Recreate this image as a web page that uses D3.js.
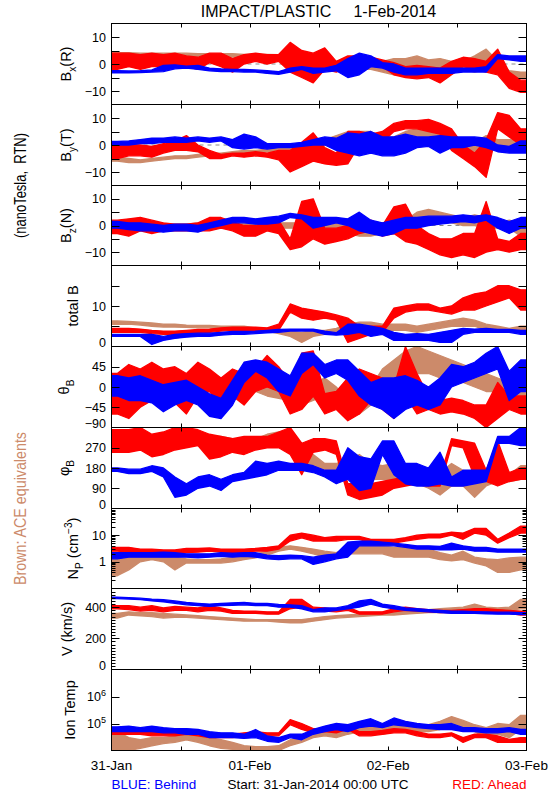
<!DOCTYPE html>
<html><head><meta charset="utf-8">
<script src="https://cdn.jsdelivr.net/npm/d3@7"></script>
<style>body{margin:0;background:#fff}svg{display:block}text{font-family:"Liberation Sans",Arial,sans-serif}</style>
</head><body><svg id="c" width="550" height="800"></svg>
<script>
// ---- time bins (hours since 31-Jan-2014 00:00 UTC, 2-hour bin centres) ----
const binHours = [1,3,5,7,9,11,13,15,17,19,21,23,25,27,29,31,33,35,37,39,41,43,45,47,49,51,53,55,57,59,61,63,65,67,69,71];
const dayTicks = [0,24,48,72];
const dayLabels = ["31-Jan","01-Feb","02-Feb","03-Feb"];

// ---- Bx (nT) ----
const bxBlueLo = [-3.3,-3.3,-3.2,-3.0,-2.8,-1.8,-1.5,-2.0,-2.5,-2.8,-2.8,-3.0,-3.0,-3.5,-3.8,-3.0,-2.0,-3.5,-3.0,-2.5,-5.0,-4.0,-1.0,-1.5,-3.0,-4.0,-4.0,-3.5,-3.5,-3.5,-3.0,-3.0,-3.0,2.0,1.5,1.0];
const bxBlueHi = [-2.5,-2.6,-2.5,-2.2,-0.5,-0.3,-0.8,-0.5,-1.5,-1.8,-2.0,-2.0,-2.2,-2.5,-2.8,-1.5,-1.0,-1.5,-1.5,-0.5,2.0,4.0,3.0,0.5,0.0,-1.5,-1.5,-1.5,-1.5,-1.5,-1.5,-1.5,-1.0,3.5,3.0,3.0];
const bxRedLo = [-2,-1,-2,-1,-1,0,-1,-2,0.5,-1,-3,0,1,0,1,-3,-5,-7,-2,-3,-1,-2,0,-1,-4,-5,-5.5,-5,-7,-4,-1,-2,-3,-4,-9,-10.5];
const bxRedHi = [4,4,3.5,4,3.5,4,3,2.5,4,4,2,3.5,4,3.5,3.5,8,5,4,6,1,3,3,2.5,1.5,0.5,-1,-0.5,-1,-1.5,1,2.5,2,1,5.5,-3,-6];
const bxBrownLo = [3.0,3.0,2.8,2.8,2.8,2.8,2.8,2.8,2.6,2.6,2.6,2.5,2.5,2.5,2.3,1.5,1,0,-0.5,-1,-2,-2,-2,-3,-4,-4.5,-3.5,-3,-3,-3,-2,-3,-2,-3,-5,-5];
const bxBrownHi = [4.2,4.2,4.0,4.0,4.0,4.0,4.0,3.8,3.8,3.8,3.8,3.6,3.6,3.6,3.5,3.5,3,2.5,1.5,1,0.5,0.5,0,1,2,2,3,1.5,2,1,1,3,5.5,1,-2.5,-3];

// ---- By (nT) ----
const byBlueLo = [0,0,0.5,0.5,1,1,1,1.5,1,1.5,-1,-1.5,-1,-1.5,-1,-1,-0.5,0,0,-2,-3,-4,-3,-4,-4,-3,-1,-0.5,-3,-1,-1,0,-1,-2.5,-3,-3];
const byBlueHi = [1.3,1.5,2,2.5,2.5,3,2.5,3,2.5,3,2,4,3,0.5,0.5,0.5,1,2,3,2.5,4.5,4,5,3,3,4,3,3,3.5,3,3,3,2.5,0,-0.5,1.5];
const byRedLo = [-5,-4,-4,-4.5,-3,-2,-2,-2.5,-5,-5,-4,-4.5,-4,-4.5,-5.5,-10,-8,-6,-7,-7.5,-7,0,-1,1,5,6,6,5,4,-2,-5,-8,-12,6,3,0];
const byRedHi = [1,0,0,-0.5,0.5,1.5,3.5,0,-2,-3.5,-3,-3,-2.5,-3,-2,-2,1,4.5,-1,-3,5,5,4,5,8,9,9,9.5,8,6,0,-3,2,12,11,6];
const byBrownLo = [-6,-6.5,-6.5,-6,-5.5,-5,-5,-4.5,-4,-4,-3.5,-3,-3,-2.5,-2,-2,-1.5,-0.5,0,0,1,2,2,0,-2,-1,1,2,1,-1,-3,-3,-2,-1,-1,-1];
const byBrownHi = [-4.5,-5,-5.5,-5,-4.5,-4,-4,-3.5,-3,-3,-2.5,-2,-2,-1.5,-1,-0.5,0,1,2,3.5,5,5,5,3,3,5,6,5,4,3,2,1,3.5,2,2,1.5];

// ---- Bz (nT) ----
const bzBlueLo = [-1,-1.5,-2,-2,-2.5,-2,-2,-2.5,-1,0,1,1,0.5,0.5,1,3,2.5,-1,0,1,0,-2,-3,-4,-3,-1,-1,0,0.5,1,1.5,1,2,-1,-3,-1];
const bzBlueHi = [1.5,1,1,0.5,0,0.5,0.5,0,1,2,3,3,2.5,3,3.5,4.5,4,3,3,3,2.5,5,2,1,2,3,3,3.5,3.5,3.5,4,3.5,4,3,1.5,3];
const bzRedLo = [-3,-4,-2,-3,-2,-2,-2,-2,-2,-1,-2,-4,-4,-2,-3,-9,-8,-5,-7,-6,-5,-3,-2,-4,-3,-6,-7,-9,-11,-12,-11,-12,-10,-9,-10,-9];
const bzRedHi = [2,2.5,3,2,1,0.5,0.5,1,3,3,1.5,0,0,1.5,2,-5,9,10,-1,-1,0,1,2,0,7,8,0,-3,-5,-5,-3,-3,9,-5,-6,-3];
const bzBrownLo = [-1,-1,-1,-1,-1,-1,-1.5,-1,-0.5,-1,-1,0,-0.5,-0.5,-1,-1,-1,0,-1,-2,-3,-4,-4,-3,-3,-3,-1,2,2,1,0,0,-1,-1,-1,-4];
const bzBrownHi = [1.5,2,2,1,0.5,0.5,0.5,1,1,1,0.5,1,0.5,0.5,1,1,1,2,1,1,0,-1,-1,1,2,2,5,6,5,4,3,4,3,1,2,1];

// ---- total B (nT) ----
const btBlueLo = [2.5,2.5,2.5,0.5,1.5,2,2.3,2.5,2.5,2.8,3,3,3.2,3.4,3.5,3.8,3.8,3.8,3,2.8,3,3.5,2.5,3,1.5,1.5,1.5,1.5,1,1,3,3.5,3.5,3.5,3.5,3];
const btBlueHi = [3,3,3,3,2.5,3,3.2,3.3,3.3,3.5,3.7,3.7,3.8,4,4.2,4.3,4.3,4.3,3.8,3.4,5.5,5.5,5,4.5,3.5,3,3.2,3,3.5,4,4.5,4.3,4.5,4.2,4.2,4];
const btRedLo = [3.5,3.5,3.5,3.2,3,3,3,3.3,3.5,3.8,4,4,4,3.8,4,8.5,7,6.5,7,6.5,1,2,3,3.5,7,8.5,9,9,8.5,8,9,9,10,11,12,9];
const btRedHi = [4.5,4.5,4.3,4,3.8,3.8,4,4.2,4.3,4.6,4.8,4.8,4.8,4.6,5.5,10.5,9.5,9,8.5,7.8,7,5,5,5,9.5,10,10.5,10.5,9.5,10,12,13,13.5,15,15,14];
const btBrownLo = [5.5,5.5,5.3,5,4.8,4.8,4.7,4.6,4.6,4.5,4.5,4.3,4,3.8,3.2,2.5,1,2.5,3,3,3.5,4.5,4.5,4,4,4,3.5,4,4.5,5,5,5,4,3.5,3.5,3.5];
const btBrownHi = [6.3,6.2,6,5.8,5.5,5.5,5.3,5.2,5.2,5,5,5,4.6,4.4,4,3.8,3.5,4,4,4.5,5.5,6,6,5.5,5.5,5.5,5,5.5,6,6.5,7,6.5,5.5,5,4.5,5];

// ---- theta_B (deg) ----
const thBlueLo = [-20,-30,-30,-35,-55,-40,-30,-40,-65,-70,-40,10,35,20,-10,-20,30,50,20,30,15,-20,-40,-50,-70,-50,-40,-50,-40,0,10,20,30,40,-30,-10];
const thBlueHi = [25,20,25,15,5,10,15,0,-15,-25,15,55,60,55,40,25,75,75,50,60,60,35,10,20,20,25,15,0,20,50,45,55,75,90,35,60];
const thRedLo = [-60,-70,-45,-30,-20,-35,-60,-20,-10,-40,-20,-40,-10,0,-10,-60,-50,-20,-60,-50,-75,-60,-30,-50,-70,-20,-60,-50,-60,-55,-60,-70,-90,-70,-50,-60];
const thRedHi = [30,50,40,55,40,45,30,55,40,20,40,30,40,70,45,10,75,80,-15,-10,20,40,30,20,0,90,30,-20,-30,-25,-30,-40,-40,10,-20,-20];
const thBrownLo = [-30,-20,-20,-15,-20,-20,-10,-10,-10,-10,-15,-10,-10,-20,-25,-30,-40,-30,-20,-30,-60,-60,-40,-20,-10,20,30,30,20,20,10,0,-10,-10,-20,-40];
const thBrownHi = [20,20,20,15,20,20,15,15,10,15,10,20,15,0,-5,-10,-10,10,20,0,-30,-20,0,40,60,80,90,80,70,60,50,40,30,20,10,10];

// ---- phi_B (deg) ----
const phBlueLo = [165,155,155,165,140,50,60,90,100,80,120,130,140,150,170,170,170,160,140,110,130,80,90,240,150,110,100,100,110,100,100,110,120,290,290,280];
const phBlueHi = [180,175,175,190,180,140,110,140,150,130,150,160,210,200,210,200,200,190,170,170,270,230,220,300,300,200,200,180,250,140,170,170,170,320,320,360];
const phRedLo = [250,250,260,230,240,260,270,280,220,230,250,240,260,270,270,240,150,250,260,240,60,40,50,60,90,100,110,100,100,280,270,140,120,100,120,130];
const phRedHi = [350,350,360,330,340,360,360,350,330,320,310,320,320,320,340,360,290,310,310,300,110,110,110,120,130,140,140,130,140,310,300,290,170,300,160,180];
const phBrownLo = [300,300,290,300,300,290,300,300,305,300,290,290,290,300,300,280,180,170,150,130,140,180,130,130,120,150,110,90,60,100,100,50,100,120,120,130];
const phBrownHi = [330,320,310,320,320,310,320,320,325,320,310,310,310,330,340,330,260,240,200,200,220,240,200,190,200,180,150,150,160,200,170,150,180,160,150,190];

// ---- Np (cm^-3) ----
const npBlueLo = [1.3,1.5,1.5,1.5,1.5,1.5,1.5,1.4,1.5,1.6,1.5,1.6,1.5,1.3,1.2,1.3,1.3,0.8,1,1.3,1.5,4,4,4,4,3.5,3,3,2.8,2.8,3,2.5,2.5,2.3,2.3,2.3];
const npBlueHi = [2.2,2.2,2.2,2.2,2.3,2.2,2,2,2,2.2,2.1,2.2,2.2,1.8,1.7,1.8,1.7,1.5,1.8,2,5.5,6,6,5.5,5,4.5,4,4,3.8,5,4,3.5,3.5,3,3,3];
const npRedLo = [2.5,2.3,2.2,2,2,2,2.2,2.3,2.5,2.3,2.2,2.3,2.5,2.5,3,6,8,6,6,6,7,7,5,5,5,6,7,8,8,10,7,12,10,5,8,12];
const npRedHi = [3.5,3.5,3,3,2.8,2.8,3.2,3.2,3.3,3,3,3,3.2,3.5,4,10,12,10,8,9,9,9,7,7,7,8,10,11,11,13,12,18,18,7,12,22];
const npBrownLo = [0.3,0.5,1,1.2,1,0.5,0.9,0.9,0.9,0.9,1,1.2,1.4,1.8,2.5,3,2.5,2,1.5,1.5,2,2,2,2,1.5,1.5,1.5,1.5,1.2,1.1,1.2,0.9,0.7,0.4,0.4,0.5];
const npBrownHi = [2,2,2,2,1.6,1.5,1.3,1.2,1.2,1.3,1.5,1.8,2,2.5,3.5,4,3.5,3,2.5,2.2,3.5,4,4.5,4,3.5,3.5,3.5,3,2.2,1.8,2.5,1.5,1.3,1.2,1.4,1.5];

// ---- V (km/s) ----
const vBlueLo = [455,452,448,440,435,425,415,410,405,410,412,415,410,410,400,400,390,370,370,380,390,400,420,400,390,380,375,370,365,360,360,360,358,355,355,352];
const vBlueHi = [465,462,458,452,448,440,430,425,420,425,428,430,425,425,418,415,410,385,395,395,410,440,450,420,410,395,390,385,380,375,375,372,370,368,368,365];
const vRedLo = [390,385,375,380,370,380,380,370,380,375,360,360,360,355,355,390,400,380,375,370,380,355,355,355,370,380,375,370,365,365,370,375,375,365,360,350];
const vRedHi = [410,410,400,410,395,405,400,395,410,395,380,375,375,370,370,450,450,400,395,385,400,370,370,370,390,400,390,385,380,380,385,390,390,385,380,375];
const vBrownLo = [330,350,345,340,330,335,335,330,325,320,315,310,310,310,305,300,300,310,320,330,335,340,345,350,350,355,360,365,365,370,375,380,375,380,380,390];
const vBrownHi = [360,370,365,365,360,355,350,345,340,335,330,325,320,320,320,320,320,330,340,345,350,355,360,365,370,375,380,385,390,395,400,420,400,395,400,450];

// ---- Ion temperature (K) ----
const tBlueLo = [5e4,5e4,5e4,5e4,4.5e4,4.5e4,4e4,4e4,3e4,3e4,3e4,2.8e4,3e4,2.2e4,2e4,3e4,2.5e4,4e4,5e4,6e4,5e4,7e4,8e4,7e4,9e4,8e4,7e4,6.5e4,6e4,6e4,5e4,5e4,4.5e4,4.5e4,5e4,4e4];
const tBlueHi = [7.5e4,8e4,7e4,8e4,7e4,6.5e4,6.5e4,6e4,5e4,4.5e4,4.5e4,4e4,6e4,3.5e4,3e4,4e4,4e4,6e4,8e4,1e5,9e4,1.2e5,1.5e5,1e5,1.6e5,1.2e5,1e5,9e4,9e4,1e5,7e4,7e4,6.5e4,6.5e4,7e4,6e4];
const tRedLo = [4e4,4e4,4e4,3.5e4,3.5e4,3.5e4,4e4,3.5e4,3e4,3e4,3e4,3.5e4,3.5e4,3.5e4,3.5e4,9e4,6e4,4.5e4,5e4,4.5e4,6e4,3.5e4,3.5e4,4e4,4.5e4,4.5e4,3.5e4,3e4,3e4,3.5e4,2e4,3e4,3e4,2e4,2e4,2e4];
const tRedHi = [6e4,5.5e4,5e4,5e4,5e4,5e4,5.5e4,5e4,4.5e4,4e4,4e4,4.5e4,5e4,4.5e4,4.5e4,1.4e5,1e5,6.5e4,6.5e4,6e4,8e4,5e4,5e4,5.5e4,6.5e4,6e4,5e4,4e4,4e4,4.5e4,3e4,4e4,4e4,3.5e4,2.6e4,3e4];
const tBrownLo = [1e4,1e4,1.2e4,1.5e4,1.8e4,2e4,2.5e4,2e4,1.5e4,1.2e4,1.1e4,1e4,1e4,1e4,1e4,1.5e4,2e4,3e4,3.5e4,3e4,4e4,5e4,5e4,4e4,5e4,5e4,5e4,5e4,6e4,8e4,6e4,5e4,3e4,4e4,3e4,6e4];
const tBrownHi = [5e4,3e4,2.5e4,3e4,3e4,3.5e4,4e4,3.5e4,3e4,2.5e4,2e4,1.5e4,1.4e4,1.4e4,1.5e4,2.5e4,3e4,5e4,6e4,5e4,7e4,9e4,8e4,7e4,1e5,9e4,8e4,9e4,1.2e5,1.8e5,1.3e5,9e4,7e4,1e5,9e4,2e5];

// ================= drawing =================
const BLUE = "#0000ff", RED = "#ff0000", BROWN = "#cc8a6a";
const svg = d3.select("#c");
const X0 = 111.5, X1 = 526.5;
const x = d3.scaleLinear().domain([0, 72]).range([X0, X1]);
const bounds = d3.range(10).map(i => Math.round(23 + i * 80.78) + 0.5);

const panels = [
  {type:"lin", domain:[-15,15], ticks:[-10,-5,0,5,10], labels:[[10,"10"],[0,"0"],[-10,"\u221210"]], zero:true,
   title:[["B"],["x","sub"],["(R)"]], tx:71, series:[[bxBrownLo,bxBrownHi,BROWN],[bxRedLo,bxRedHi,RED],[bxBlueLo,bxBlueHi,BLUE]]},
  {type:"lin", domain:[-15,15], ticks:[-10,-5,0,5,10], labels:[[10,"10"],[0,"0"],[-10,"\u221210"]], zero:true,
   title:[["B"],["y","sub"],["(T)"]], tx:71, series:[[byBrownLo,byBrownHi,BROWN],[byRedLo,byRedHi,RED],[byBlueLo,byBlueHi,BLUE]]},
  {type:"lin", domain:[-15,15], ticks:[-10,-5,0,5,10], labels:[[10,"10"],[0,"0"],[-10,"\u221210"]], zero:true,
   title:[["B"],["z","sub"],["(N)"]], tx:71, series:[[bzBrownLo,bzBrownHi,BROWN],[bzRedLo,bzRedHi,RED],[bzBlueLo,bzBlueHi,BLUE]]},
  {type:"lin", domain:[0,20], ticks:[5,10,15], labels:[[10,"10"],[0,"0"]],
   title:[["total B"]], tx:78, series:[[btBrownLo,btBrownHi,BROWN],[btRedLo,btRedHi,RED],[btBlueLo,btBlueHi,BLUE]]},
  {type:"lin", domain:[-90,90], ticks:[-45,0,45], labels:[[45,"45"],[0,"0"],[-45,"\u221245"],[-90,"\u221290"]],
   title:[["\u03b8"],["B","sub"]], tx:69, series:[[thBrownLo,thBrownHi,BROWN],[thRedLo,thRedHi,RED],[thBlueLo,thBlueHi,BLUE]]},
  {type:"lin", domain:[0,360], ticks:[90,180,270], labels:[[270,"270"],[180,"180"],[90,"90"],[0,"0"]],
   title:[["\u03c6"],["B","sub"]], tx:69, series:[[phBrownLo,phBrownHi,BROWN],[phRedLo,phRedHi,RED],[phBlueLo,phBlueHi,BLUE]]},
  {type:"log", domain:[0.1,100], ticks:[1,10], minor:[0.2,0.3,0.4,0.5,0.6,0.7,0.8,0.9,2,3,4,5,6,7,8,9,20,30,40,50,60,70,80,90], labels:[[10,"10"],[1,"1"]],
   title:[["N"],["P","sub"],[" (cm"],["\u22123","sup"],[")"]], tx:78, series:[[npBrownLo,npBrownHi,BROWN],[npRedLo,npRedHi,RED],[npBlueLo,npBlueHi,BLUE]]},
  {type:"lin", domain:[0,520], ticks:[200,400], minor:d3.range(20,520,20), labels:[[400,"400"],[200,"200"],[0,"0"]],
   title:[["V (km/s)"]], tx:72, series:[[vBrownLo,vBrownHi,BROWN],[vRedLo,vRedHi,RED],[vBlueLo,vBlueHi,BLUE]]},
  {type:"log", domain:[1e4,1e7], ticks:[1e5,1e6], labels:[[1e6,"10","6"],[1e5,"10","5"]],
   title:[["Ion Temp"]], tx:75, series:[[tBrownLo,tBrownHi,BROWN],[tRedLo,tRedHi,RED],[tBlueLo,tBlueHi,BLUE]]}
];

const defs = svg.append("defs");

function richText(sel, parts, size) {
  let shift = 0;
  parts.forEach(p => {
    const ts = sel.append("tspan").text(p[0]);
    let target = 0, fs = size;
    if (p[1] === "sub") { target = size * 0.35; fs = size * 0.7; }
    if (p[1] === "sup") { target = -size * 0.4; fs = size * 0.7; }
    ts.attr("dy", target - shift).attr("font-size", fs);
    shift = target;
  });
}

panels.forEach((p, i) => {
  const top = bounds[i], bot = bounds[i + 1];
  const y = (p.type === "log" ? d3.scaleLog() : d3.scaleLinear()).domain(p.domain).range([bot, top]);
  const g = svg.append("g");
  defs.append("clipPath").attr("id", "clip" + i).append("rect")
    .attr("x", X0).attr("y", top).attr("width", X1 - X0).attr("height", bot - top);

  if (p.zero) {
    g.append("line").attr("x1", X0).attr("x2", X1).attr("y1", y(0)).attr("y2", y(0))
      .attr("stroke", "#8a8a8a").attr("stroke-dasharray", "4,4").attr("stroke-width", 1);
  }

  const dg = g.append("g").attr("clip-path", "url(#clip" + i + ")");
  p.series.forEach(([lo, hi, col]) => {
    const pts = binHours.map((h, k) => ({h, lo: lo[k], hi: hi[k]}));
    pts.unshift({h: 0, lo: lo[0], hi: hi[0]});
    pts.push({h: 72, lo: lo[lo.length - 1], hi: hi[hi.length - 1]});
    const area = d3.area().x(d => x(d.h)).y0(d => y(d.lo)).y1(d => y(d.hi)).curve(d3.curveLinear);
    dg.append("path").attr("d", area(pts)).attr("fill", col).attr("stroke", col).attr("stroke-width", 1.3)
      .attr("stroke-linejoin", "round");
  });

  g.append("rect").attr("x", X0).attr("y", top).attr("width", X1 - X0).attr("height", bot - top)
    .attr("fill", "none").attr("stroke", "#000").attr("stroke-width", 1);

  p.ticks.forEach(v => {
    const yy = Math.round(y(v)) + 0.5;
    g.append("line").attr("x1", X0).attr("x2", X0 + 8).attr("y1", yy).attr("y2", yy).attr("stroke", "#000");
    g.append("line").attr("x1", X1).attr("x2", X1 - 8).attr("y1", yy).attr("y2", yy).attr("stroke", "#000");
  });
  (p.minor || []).forEach(v => {
    const yy = Math.round(y(v)) + 0.5;
    g.append("line").attr("x1", X0).attr("x2", X0 + 4).attr("y1", yy).attr("y2", yy).attr("stroke", "#000");
    g.append("line").attr("x1", X1).attr("x2", X1 - 4).attr("y1", yy).attr("y2", yy).attr("stroke", "#000");
  });
  [12, 24, 36, 48, 60].forEach(h => {
    const xx = Math.round(x(h)) + 0.5;
    g.append("line").attr("x1", xx).attr("x2", xx).attr("y1", top).attr("y2", top + 4).attr("stroke", "#000");
    g.append("line").attr("x1", xx).attr("x2", xx).attr("y1", bot).attr("y2", bot - 4).attr("stroke", "#000");
  });

  p.labels.forEach(l => {
    let yy = y(l[0]);
    if (Math.abs(yy - bot) < 1) yy -= 4;
    const t = g.append("text").attr("x", 106).attr("y", yy).attr("dy", "0.36em")
      .attr("text-anchor", "end").attr("font-size", 12.5);
    if (l[2]) {
      t.append("tspan").text(l[1]);
      t.append("tspan").text(l[2]).attr("font-size", 9).attr("dy", -5);
    } else t.text(l[1]);
  });

  const cy = (top + bot) / 2;
  const tt = g.append("text").attr("transform", `translate(${p.tx},${cy}) rotate(-90)`)
    .attr("text-anchor", "middle").attr("font-size", 14.5);
  richText(tt, p.title, 14.5);
});

dayTicks.forEach((h, k) => {
  svg.append("text").attr("x", x(h)).attr("y", 770).attr("text-anchor", "middle")
    .attr("font-size", 13.5).text(dayLabels[k]);
});

svg.append("text").attr("x", 318.5).attr("y", 17).attr("text-anchor", "middle").attr("font-size", 16)
  .style("white-space", "pre").text("IMPACT/PLASTIC     1-Feb-2014");
svg.append("text").attr("x", X0).attr("y", 789).attr("font-size", 13.5).attr("fill", BLUE).text("BLUE: Behind");
svg.append("text").attr("x", 318).attr("y", 789).attr("text-anchor", "middle").attr("font-size", 13.5).text("Start: 31-Jan-2014 00:00 UTC");
svg.append("text").attr("x", X1).attr("y", 789).attr("text-anchor", "end").attr("font-size", 13.5).attr("fill", RED).text("RED: Ahead");

svg.append("text").attr("transform", `translate(26,${bounds[2]}) rotate(-90)`).attr("text-anchor", "middle")
  .attr("font-size", 16).attr("textLength", 105).attr("lengthAdjust", "spacingAndGlyphs")
  .style("white-space", "pre").text("(nanoTesla,  RTN)");
svg.append("text").attr("transform", `translate(26,${bounds[6]}) rotate(-90)`).attr("text-anchor", "middle")
  .attr("font-size", 16).attr("textLength", 153).attr("lengthAdjust", "spacingAndGlyphs")
  .attr("fill", BROWN).text("Brown: ACE equivalents");
</script></body></html>
